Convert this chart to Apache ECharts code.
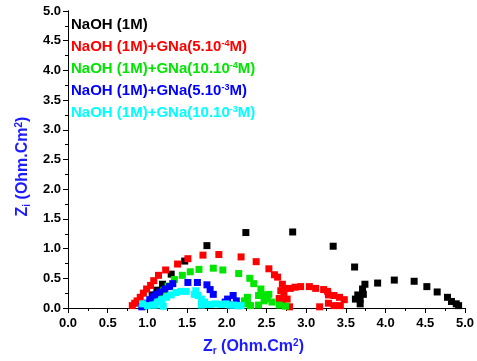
<!DOCTYPE html>
<html><head><meta charset="utf-8">
<script src="https://cdn.jsdelivr.net/npm/echarts@6/dist/echarts.min.js"></script>
<style>html,body{margin:0;padding:0;background:#fff}#c{width:477px;height:361px}</style>
</head><body><div id="c"></div>
<script>
// Series names (legend labels)
const seriesNames = [
  'NaOH (1M)',
  'NaOH (1M)+GNa(5.10-4M)',
  'NaOH (1M)+GNa(10.10-4M)',
  'NaOH (1M)+GNa(5.10-3M)',
  'NaOH (1M)+GNa(10.10-3M)'
];
const seriesLabels = [
  'NaOH (1M)',
  'NaOH (1M)+GNa(5.10{sup|-4}M)',
  'NaOH (1M)+GNa(10.10{sup|-4}M)',
  'NaOH (1M)+GNa(5.10{sup|-3}M)',
  'NaOH (1M)+GNa(10.10{sup|-3}M)'
];
const seriesColors = ['#000000', '#ff0000', '#00e600', '#0000ff', '#00ffff'];

// [Zr, Zi] values (Ohm.Cm2)
const naoh = [[1.06,0.22],[1.12,0.30],[1.19,0.40],[1.30,0.57],[1.47,0.79],[1.75,1.05],[2.24,1.27],[2.83,1.28],[3.34,1.04],[3.61,0.69],
  [3.74,0.40],[3.71,0.32],[3.72,0.23],[3.65,0.22],[3.62,0.15],[3.68,0.15],[3.68,0.07],
  [3.90,0.42],[4.11,0.47],[4.36,0.45],[4.52,0.36],[4.65,0.27],[4.78,0.18],[4.83,0.11],[4.89,0.07],[4.92,0.04]];
const gna5e4 = [[0.81,0.04],[0.84,0.08],[0.87,0.12],[0.91,0.18],[0.95,0.25],[0.99,0.32],[1.04,0.38],[1.08,0.46],[1.14,0.55],[1.23,0.64],
  [1.38,0.74],[1.51,0.83],[1.70,0.89],[1.90,0.90],[2.18,0.86],[2.37,0.78],[2.53,0.66],[2.60,0.56],[2.64,0.52],[2.70,0.40],
  [2.68,0.29],[2.73,0.33],[2.72,0.23],[2.66,0.16],[2.76,0.15],[2.70,0.11],[2.79,0.02],
  [2.80,0.33],[2.86,0.35],[2.93,0.36],[3.04,0.36],[3.12,0.33],[3.22,0.31],[3.27,0.28],[3.28,0.22],[3.35,0.21],[3.42,0.18],[3.48,0.14],
  [3.28,0.08],[3.35,0.04],[3.43,0.04],[3.17,0.02]];
const gna10e4 = [[0.95,0.03],[1.00,0.08],[1.05,0.12],[1.09,0.15],[1.15,0.23],[1.21,0.30],[1.26,0.37],[1.34,0.48],[1.44,0.55],[1.54,0.61],
  [1.65,0.65],[1.83,0.67],[1.95,0.64],[2.15,0.58],[2.29,0.50],[2.34,0.41],[2.43,0.32],[2.47,0.22],[2.40,0.21],[2.53,0.23],
  [2.26,0.18],[2.22,0.12],[2.26,0.07],[2.30,0.04],[2.51,0.15],[2.47,0.12],[2.57,0.10],[2.66,0.05],[2.74,0.03],[2.40,0.05]];
const gna5e3 = [[0.93,0.02],[0.99,0.04],[1.00,0.08],[1.03,0.14],[1.07,0.19],[1.11,0.23],[1.16,0.27],[1.22,0.32],[1.28,0.36],[1.32,0.41],
  [1.51,0.43],[1.63,0.43],[1.75,0.39],[1.79,0.31],[1.83,0.23],[2.01,0.15],[2.08,0.21],[2.12,0.12],[1.98,0.10],[2.05,0.05],[2.15,0.04]];
const gna10e3 = [[0.94,0.07],[1.00,0.04],[1.07,0.05],[1.10,0.05],[1.13,0.10],[1.18,0.14],[1.20,0.03],[1.24,0.18],[1.30,0.22],[1.36,0.26],
  [1.42,0.28],[1.49,0.28],[1.59,0.23],[1.61,0.29],[1.64,0.21],[1.68,0.15],[1.68,0.05],[1.72,0.10],[1.74,0.06],[1.80,0.06],
  [1.86,0.07],[1.93,0.06],[1.99,0.07],[2.04,0.05],[2.09,0.05],[2.14,0.04],[2.18,0.04]];
const allData = [naoh, gna5e4, gna10e4, gna5e3, gna10e3];

const FONT = "Arial, 'Liberation Sans', sans-serif";
const chart = echarts.init(document.getElementById('c'));
const axisLine = {show: true, lineStyle: {color: '#000', width: 1}};
const tickLabel = {color: '#000', fontWeight: 'bold', fontSize: 13, fontFamily: FONT, formatter: v => v.toFixed(1)};
const titleStyle = {color: '#1c1cff', fontWeight: 'bold', fontSize: 16, fontFamily: FONT,
  rich: {
    sub: {color: '#1c1cff', fontWeight: 'bold', fontSize: 10, fontFamily: FONT, verticalAlign: 'bottom', padding: [8, 0, 0, 0]},
    sup: {color: '#1c1cff', fontWeight: 'bold', fontSize: 10, fontFamily: FONT, verticalAlign: 'top', padding: [0, 0, 6, 0]}
  }};

chart.setOption({
  animation: false,
  grid: {left: 68, right: 9, top: 11, bottom: 51},
  legend: {
    orient: 'vertical', left: 66, top: 17, padding: 0, itemGap: 7,
    itemWidth: 0, itemHeight: 0, selectedMode: false,
    formatter: name => seriesLabels[seriesNames.indexOf(name)],
    data: seriesNames.map((n, i) => ({
      name: n, icon: 'rect',
      textStyle: {color: seriesColors[i], fontWeight: 'bold', fontSize: 15, lineHeight: 15, fontFamily: FONT,
        rich: {sup: {color: seriesColors[i], fontWeight: 'bold', fontSize: 9, fontFamily: FONT, verticalAlign: 'top', lineHeight: 9}}}
    }))
  },
  xAxis: [{
    type: 'value', min: 0, max: 5, interval: 0.5, position: 'bottom',
    name: 'Z{sub|r} (Ohm.Cm{sup|2})', nameLocation: 'middle', nameGap: 30,
    nameTextStyle: Object.assign({padding: [0, 26, 0, 0]}, titleStyle),
    axisLine, axisTick: {show: true, inside: false, length: 5, lineStyle: {color: '#000'}},
    minorTick: {show: true, splitNumber: 2, length: 3, lineStyle: {color: '#000'}},
    axisLabel: Object.assign({margin: 9}, tickLabel), splitLine: {show: false}
  }, {
    type: 'value', min: 0, max: 5, interval: 0.5, position: 'top',
    axisLine, axisTick: {show: true, inside: true, length: 4, lineStyle: {color: '#000'}},
    minorTick: {show: true, splitNumber: 2, length: 2, lineStyle: {color: '#000'}},
    axisLabel: {show: false}, splitLine: {show: false}
  }],
  yAxis: [{
    type: 'value', min: 0, max: 5, interval: 0.5, position: 'left',
    name: 'Z{sub|i} (Ohm.Cm{sup|2})', nameLocation: 'middle', nameGap: 34, nameRotate: 90,
    nameTextStyle: Object.assign({padding: [0, 14, 0, 0]}, titleStyle),
    axisLine, axisTick: {show: true, inside: false, length: 5, lineStyle: {color: '#000'}},
    minorTick: {show: true, splitNumber: 2, length: 3, lineStyle: {color: '#000'}},
    axisLabel: Object.assign({margin: 7}, tickLabel), splitLine: {show: false}
  }, {
    type: 'value', min: 0, max: 5, interval: 0.5, position: 'right',
    axisLine, axisTick: {show: true, inside: true, length: 4, lineStyle: {color: '#000'}},
    minorTick: {show: true, splitNumber: 2, length: 2, lineStyle: {color: '#000'}},
    axisLabel: {show: false}, splitLine: {show: false}
  }],
  series: seriesNames.map((n, i) => ({
    name: n, type: 'scatter', symbol: 'rect', symbolSize: 7,
    itemStyle: {color: seriesColors[i], opacity: 1},
    data: allData[i]
  }))
});
</script></body></html>
